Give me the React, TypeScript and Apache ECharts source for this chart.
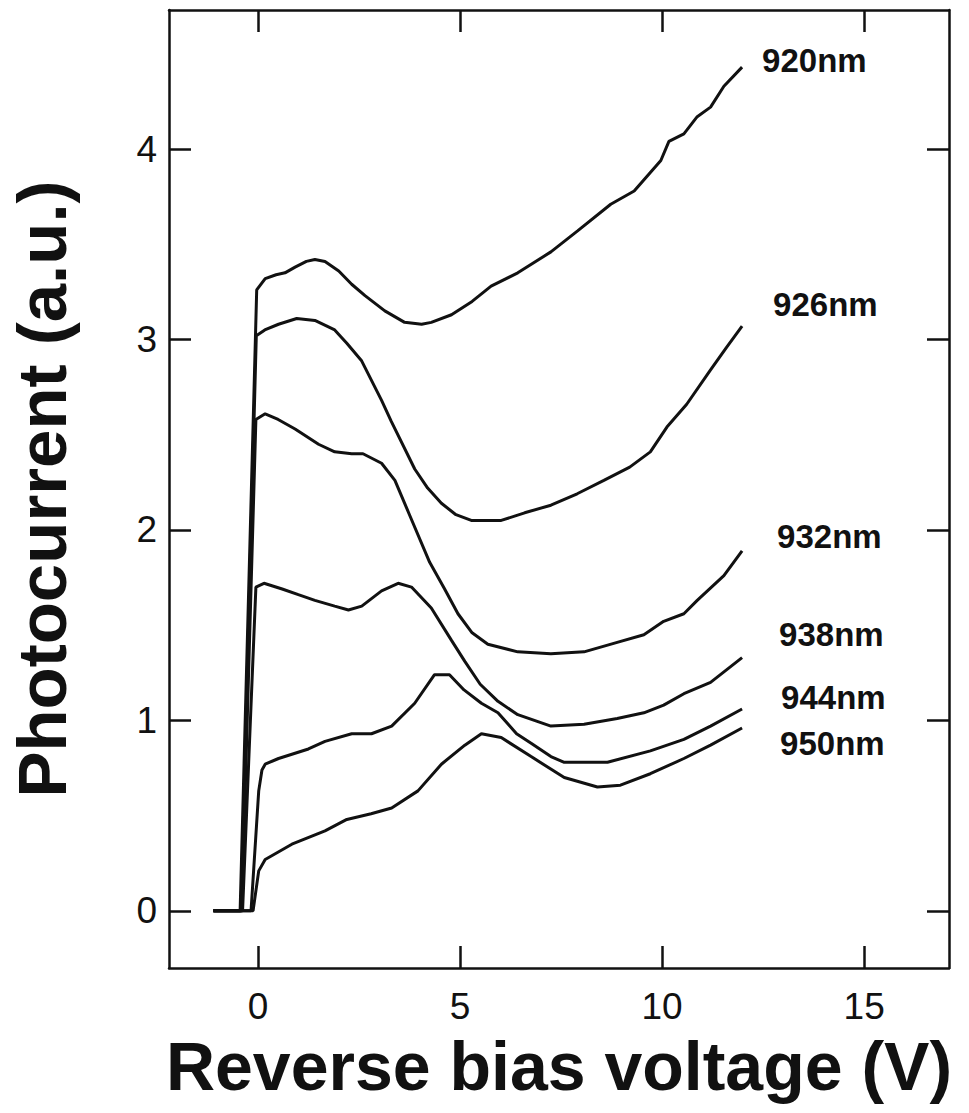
import React, { useEffect, useRef } from "react";
import * as echarts from "echarts";

// Tick values on the frame
const X_TICKS = [0, 5, 10, 15];
const Y_TICKS = [0, 1, 2, 3, 4];

// Excitation wavelengths, one curve each
const WAVELENGTHS = ["920nm", "926nm", "932nm", "938nm", "944nm", "950nm"];

// Photocurrent (a.u.) vs reverse bias voltage (V), [V, I]
const pc920 = [
  [-1.1, 0], [-0.44, 0], [-0.03, 3.26], [0.18, 3.32], [0.45, 3.34], [0.67, 3.35],
  [0.92, 3.38], [1.2, 3.41], [1.41, 3.42], [1.66, 3.41], [2.0, 3.36], [2.32, 3.29],
  [2.65, 3.23], [3.14, 3.15], [3.63, 3.09], [4.05, 3.08], [4.29, 3.09], [4.79, 3.13],
  [5.3, 3.2], [5.77, 3.28], [6.43, 3.35], [7.25, 3.46], [7.91, 3.57], [8.73, 3.71],
  [9.31, 3.78], [9.97, 3.94], [10.17, 4.04], [10.54, 4.08], [10.87, 4.17], [11.2, 4.22],
  [11.53, 4.33], [11.98, 4.43],
];
const pc926 = [
  [-1.1, 0], [-0.42, 0], [-0.04, 3.02], [0.17, 3.05], [0.51, 3.08], [0.96, 3.11],
  [1.41, 3.1], [1.9, 3.05], [2.2, 2.98], [2.56, 2.89], [3.06, 2.68], [3.3, 2.57],
  [3.88, 2.32], [4.2, 2.22], [4.54, 2.14], [4.9, 2.08], [5.28, 2.05], [6.02, 2.05],
  [6.6, 2.09], [7.25, 2.13], [7.9, 2.19], [8.56, 2.26], [9.2, 2.33], [9.71, 2.41],
  [10.12, 2.54], [10.61, 2.66], [11.2, 2.84], [11.6, 2.96], [11.98, 3.07],
];
const pc932 = [
  [-1.1, 0], [-0.4, 0], [-0.05, 2.58], [0.18, 2.61], [0.5, 2.58], [0.92, 2.53],
  [1.5, 2.45], [1.9, 2.41], [2.32, 2.4], [2.6, 2.4], [3.06, 2.35], [3.39, 2.26],
  [3.75, 2.08], [4.25, 1.83], [4.62, 1.69], [4.95, 1.56], [5.3, 1.46], [5.69, 1.4],
  [6.43, 1.36], [7.25, 1.35], [8.07, 1.36], [8.89, 1.41], [9.55, 1.45], [10.04, 1.52],
  [10.54, 1.56], [10.87, 1.63], [11.53, 1.76], [11.98, 1.89],
];
const pc938 = [
  [-1.1, 0], [-0.38, 0], [-0.05, 1.7], [0.15, 1.72], [0.6, 1.69], [1.0, 1.66],
  [1.41, 1.63], [1.9, 1.6], [2.24, 1.58], [2.57, 1.6], [3.06, 1.68], [3.47, 1.72],
  [3.8, 1.7], [4.29, 1.59], [4.79, 1.42], [5.12, 1.31], [5.5, 1.19], [5.94, 1.1],
  [6.43, 1.03], [7.25, 0.97], [8.07, 0.98], [8.89, 1.01], [9.55, 1.04], [10.04, 1.08],
  [10.54, 1.14], [11.2, 1.2], [11.98, 1.33],
];
const pc944 = [
  [-1.1, 0], [-0.17, 0], [0.02, 0.63], [0.1, 0.74], [0.18, 0.77], [0.51, 0.8],
  [1.25, 0.85], [1.66, 0.89], [2.32, 0.93], [2.81, 0.93], [3.31, 0.97], [3.88, 1.09],
  [4.37, 1.24], [4.74, 1.24], [5.1, 1.16], [5.53, 1.09], [5.94, 1.04], [6.4, 0.93],
  [6.76, 0.88], [7.25, 0.81], [7.58, 0.78], [8.65, 0.78], [9.71, 0.84], [10.54, 0.9],
  [11.2, 0.97], [11.98, 1.06],
];
const pc950 = [
  [-1.1, 0], [-0.12, 0], [0.02, 0.21], [0.18, 0.27], [0.84, 0.35], [1.66, 0.42],
  [2.2, 0.48], [2.8, 0.51], [3.31, 0.54], [3.96, 0.63], [4.54, 0.77], [5.12, 0.87],
  [5.53, 0.93], [6.02, 0.91], [6.76, 0.81], [7.58, 0.7], [8.4, 0.65], [8.97, 0.66],
  [9.71, 0.72], [10.54, 0.8], [11.2, 0.87], [11.98, 0.96],
];

const CURVES = [pc920, pc926, pc932, pc938, pc944, pc950];

// Where each wavelength tag sits relative to the end of its curve (px)
const LABEL_OFFSETS = [
  [20, -7],
  [31, -22],
  [35, -14],
  [37, -23],
  [39, -11],
  [38, 15],
];

const INK = "#111";
const FONT = "'Liberation Sans', Arial, Helvetica, sans-serif";

export default function App() {
  const ref = useRef<HTMLDivElement>(null);

  useEffect(() => {
    if (!ref.current) return;
    const chart = echarts.init(ref.current, null, { renderer: "svg" });

    const frameLine = { show: true, onZero: false, lineStyle: { color: INK, width: 2.5 } };
    const innerTicks = (values: number[]) => ({
      show: true,
      inside: true,
      length: 22,
      customValues: values,
      lineStyle: { color: INK, width: 2.5 },
    });

    chart.setOption({
      animation: false,
      backgroundColor: "#fff",
      grid: { left: 167, right: 20, top: 10, bottom: 145, containLabel: false },
      xAxis: [
        {
          type: "value",
          position: "bottom",
          min: -2.2,
          max: 17.1,
          axisLine: frameLine,
          axisTick: innerTicks(X_TICKS),
          splitLine: { show: false },
          axisLabel: {
            customValues: X_TICKS,
            margin: 20,
            fontSize: 37,
            fontFamily: FONT,
            color: INK,
          },
          name: "Reverse bias voltage (V)",
          nameLocation: "middle",
          nameGap: 64,
          nameTextStyle: {
            fontSize: 68,
            fontWeight: "bold",
            fontFamily: FONT,
            color: INK,
          },
        },
        {
          type: "value",
          position: "top",
          min: -2.2,
          max: 17.1,
          axisLine: frameLine,
          axisTick: innerTicks(X_TICKS),
          axisLabel: { show: false },
          splitLine: { show: false },
        },
      ],
      yAxis: [
        {
          type: "value",
          position: "left",
          min: -0.3,
          max: 4.73,
          axisLine: frameLine,
          axisTick: innerTicks(Y_TICKS),
          splitLine: { show: false },
          axisLabel: {
            customValues: Y_TICKS,
            margin: 12,
            fontSize: 37,
            fontFamily: FONT,
            color: INK,
          },
          name: "Photocurrent (a.u.)",
          nameLocation: "middle",
          nameGap: 92,
          nameTextStyle: {
            fontSize: 69,
            fontWeight: "bold",
            fontFamily: FONT,
            color: INK,
          },
        },
        {
          type: "value",
          position: "right",
          min: -0.3,
          max: 4.73,
          axisLine: frameLine,
          axisTick: innerTicks(Y_TICKS),
          axisLabel: { show: false },
          splitLine: { show: false },
        },
      ],
      series: CURVES.map((data, i) => ({
        type: "line",
        name: WAVELENGTHS[i],
        xAxisIndex: 0,
        yAxisIndex: 0,
        data,
        showSymbol: false,
        symbol: "none",
        smooth: false,
        lineStyle: { color: INK, width: 3 },
        endLabel: {
          show: true,
          formatter: WAVELENGTHS[i],
          distance: 0,
          offset: LABEL_OFFSETS[i],
          align: "left",
          verticalAlign: "middle",
          fontSize: 33,
          fontWeight: "bold",
          fontFamily: FONT,
          color: INK,
        },
      })),
    });

    return () => chart.dispose();
  }, []);

  return (
    <div
      ref={ref}
      style={{ position: "fixed", left: 0, top: 0, width: 969, height: 1113 }}
    />
  );
}
